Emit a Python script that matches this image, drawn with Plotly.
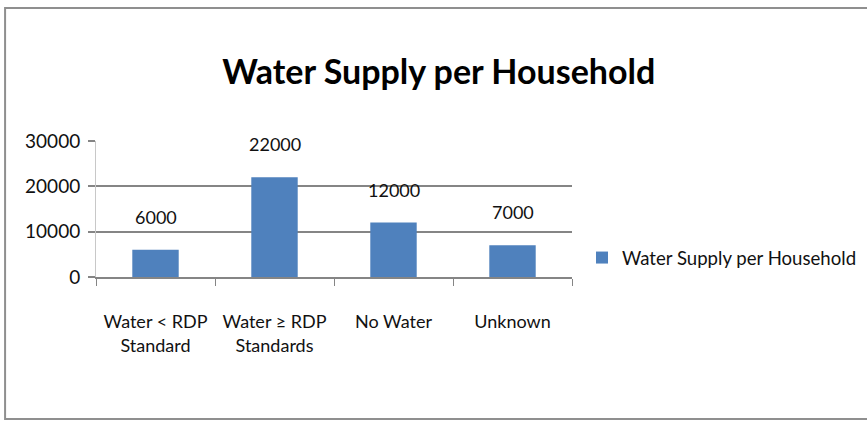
import plotly.graph_objects as go

# Households by water supply category
categories = ["Water < RDP<br>Standard", "Water ≥ RDP<br>Standards", "No Water", "Unknown"]
households = [6000, 22000, 12000, 7000]
y_ticks = [0, 10000, 20000, 30000]
series_name = "Water Supply per Household"
chart_title = "Water Supply per Household"

FONT = "Lato, Roboto, sans-serif"
GRID = "#858585"
BAR = "#4f81bd"

fig = go.Figure()
fig.add_trace(go.Bar(
    x=categories,
    y=households,
    name=series_name,
    marker=dict(color=BAR, line=dict(width=0)),
    width=0.39,
    showlegend=True,
))

# value labels sitting above each bar
for cat, val in zip(categories, households):
    fig.add_annotation(
        x=cat, y=val, text=f"{val}", showarrow=False,
        yanchor="middle", yshift=33,
        font=dict(family=FONT, size=18, color="#111111"),
    )

# outer chart frame
fig.add_shape(
    type="rect", xref="paper", yref="paper",
    x0=-0.191, x1=1.63, y0=-1.044, y1=1.978,
    line=dict(color="#8f8f8f", width=2), fillcolor="rgba(0,0,0,0)",
    layer="below",
)

fig.update_layout(
    width=867, height=421,
    margin=dict(l=96, r=295, t=141, b=144, autoexpand=False),
    paper_bgcolor="white", plot_bgcolor="white",
    font=dict(family=FONT, color="#111111"),
    title=dict(
        text=chart_title, xref="container", yref="container",
        x=0.506, xanchor="center", y=0.828, yanchor="middle",
        font=dict(family=FONT, size=34, color="#000000", weight="bold"),
    ),
    legend=dict(
        x=1.021, y=0.14, xanchor="left", yanchor="middle",
        xref="paper", yref="paper",
        font=dict(family=FONT, size=18.6, color="#111111"),
        bgcolor="rgba(0,0,0,0)", itemwidth=30,
    ),
    bargap=0.61,
)

fig.update_xaxes(
    showgrid=False, showline=True, linecolor=GRID, linewidth=1.5,
    ticks="outside", tickson="boundaries", ticklen=7, tickcolor=GRID, tickwidth=1,
    tickfont=dict(family=FONT, size=18, color="#111111"),
    tickangle=0,
    ticklabelstandoff=28,
)
fig.update_yaxes(
    range=[0, 30000], tickvals=y_ticks, ticktext=[str(v) for v in y_ticks],
    showgrid=True, gridcolor=GRID, gridwidth=1.5,
    zeroline=False, showline=True, linecolor="#c8c8c8", linewidth=1,
    ticks="outside", ticklen=7, tickcolor=GRID, tickwidth=1.5,
    tickfont=dict(family=FONT, size=19, color="#111111"),
    ticklabelstandoff=4,
)

fig.write_html("out.html")
